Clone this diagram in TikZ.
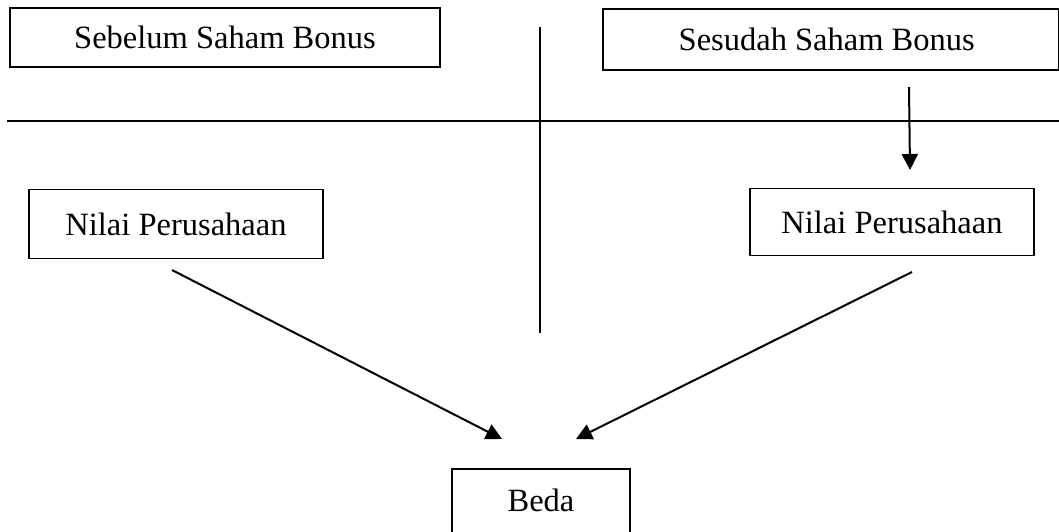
\documentclass[tikz,border=0pt]{standalone}
\usepackage{fontspec}
\setmainfont{Liberation Serif}
\usetikzlibrary{arrows.meta}
\begin{document}
\begin{tikzpicture}[x=1pt,y=-1pt,
  box/.style={draw,line width=1.5pt,inner sep=0pt,font=\fontsize{32.5}{38}\selectfont},
  ln/.style={line width=2pt},
  arr/.style={line width=2pt,-{Triangle[length=16pt,width=16pt]}}]
\useasboundingbox (0,0) rectangle (1059,531);
\node[box,minimum width=430,minimum height=59] (sb) at (225,37.5) {Sebelum Saham Bonus};
\node[box,minimum width=456,minimum height=61,anchor=west] (ss) at (602,39.5) {\hspace*{-8pt}Sesudah Saham Bonus};
\node[box,minimum width=294,minimum height=69] (nl) at (176,224) {Nilai Perusahaan};
\node[box,minimum width=284,minimum height=67] (nr) at (892,222) {Nilai Perusahaan};
\node[box,minimum width=178,minimum height=64,anchor=north] (bd) at (541,468) {Beda};
\coordinate (vt) at (540,27);
\coordinate (vb) at (540,333);
\coordinate (hl) at (7,121);
\coordinate (hr) at (1059,121);
\coordinate (ds) at (909,87);
\coordinate (de) at (910,170);
\coordinate (ls) at (172,270);
\coordinate (le) at (502,439);
\coordinate (rs) at (912,272);
\coordinate (re) at (576,439);
\draw[ln] (vt) -- (vb);
\draw[ln] (hl) -- (hr);
\draw[arr] (ds) -- (de);
\draw[arr] (ls) -- (le);
\draw[arr] (rs) -- (re);
\end{tikzpicture}
\end{document}
